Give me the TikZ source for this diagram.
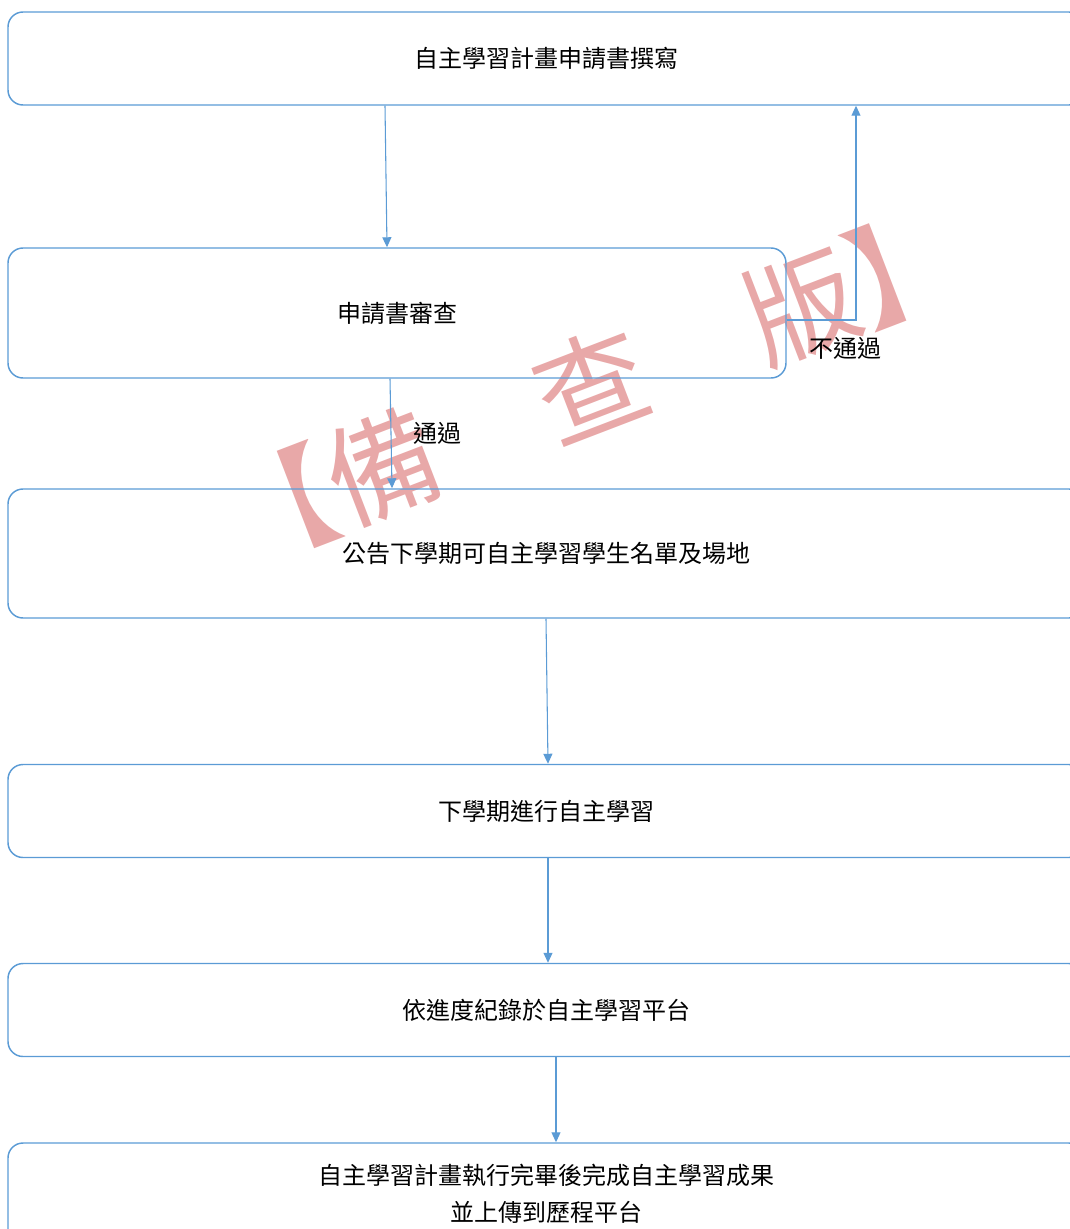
\documentclass[tikz,border=0pt]{standalone}
\usepackage{fontspec}
\setmainfont{Noto Sans CJK TC}
\usetikzlibrary{arrows.meta}
\definecolor{boxblue}{RGB}{91,155,213}
\definecolor{stampred}{RGB}{232,168,168}
\tikzset{
	flowbox/.style = {draw = boxblue, line width = 1.1pt, rounded corners = 11.25pt, minimum width = 807pt, minimum height = 69.75pt, font = \fontsize{18}{28}\selectfont, align = center, inner sep = 0pt},
	flowline/.style = {draw = boxblue, line width = 0.8pt, -{Triangle[length = 7.5pt, width = 6.75pt]}},
	flowlabel/.style = {font = \fontsize{18}{22}\selectfont, inner sep = 0pt},
	stamp/.style = {text = stampred, font = \fontsize{84}{84}\selectfont, rotate = 21, inner sep = 0pt}
}
\begin{document}
\begin{tikzpicture}[x = 0.75pt, y = -0.75pt]
	\useasboundingbox (0,0) rectangle (1070,1229);
	\clip (0,0) rectangle (1070,1229);
	\node[stamp] (stamp) at (592,386) {【備　查　版】};
	\node[flowbox] (write) at (546,58.5) {自主學習計畫申請書撰寫};
	\node[flowbox, minimum width = 583.5pt, minimum height = 97.5pt] (review) at (397,313) {申請書審查};
	\node[flowbox, minimum height = 96.75pt] (notice) at (546,553.5) {公告下學期可自主學習學生名單及場地};
	\node[flowbox] (study) at (546,811) {下學期進行自主學習};
	\node[flowbox] (record) at (546,1010) {依進度紀錄於自主學習平台};
	\node[flowbox, minimum height = 75.75pt] (final) at (546,1193.5) {自主學習計畫執行完畢後完成自主學習成果\\並上傳到歷程平台};
	\draw[flowline] ([xshift = -120.75pt]write.south) -- ([xshift = -7.5pt]review.north);
	\draw[flowline] ([xshift = -5.25pt]review.south) -- node[flowlabel, right = 16.5pt] (pass) {通過} ([xshift = -115.5pt]notice.north);
	\draw[flowline] ([yshift = -5.25pt]review.east) -| node[flowlabel, pos = 0.5, below = 12.75pt, xshift = -8.25pt] (fail) {不通過} ([xshift = 232.5pt]write.south);
	\draw[flowline] (notice.south) -- ([xshift = 1.5pt]study.north);
	\draw[flowline] ([xshift = 1.5pt]study.south) -- ([xshift = 1.5pt]record.north);
	\draw[flowline] ([xshift = 7.5pt]record.south) -- ([xshift = 7.5pt]final.north);
\end{tikzpicture}
\end{document}
